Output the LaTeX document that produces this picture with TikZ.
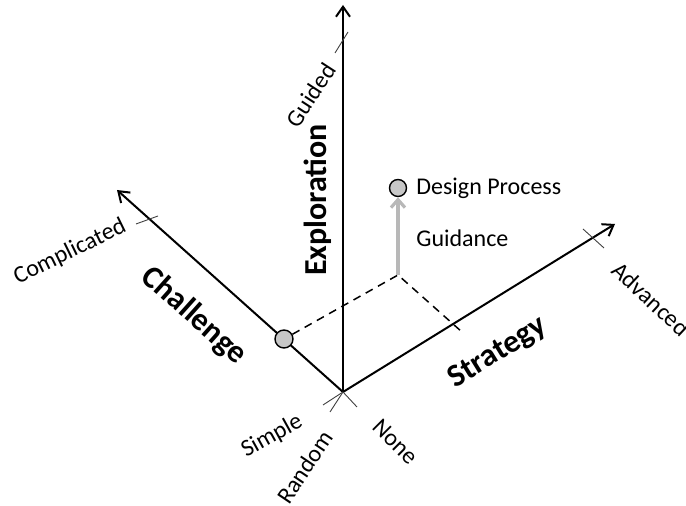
\documentclass[tikz,border=0pt]{standalone}
\usepackage{fontspec}
\setmainfont{Carlito}
\usetikzlibrary{arrows.meta,positioning}

\begin{document}
\begin{tikzpicture}[x=0.5pt, y=-0.5pt,
  axis/.style={line width=1pt, -{Straight Barb[length=5pt,width=7pt]}},
  tck/.style={line width=0.45pt, black!75},
  lbl/.style={font=\fontsize{12}{14}\selectfont, inner sep=0pt},
  axname/.style={font=\fontsize{16}{19}\selectfont\bfseries, inner sep=0pt},
  dot/.style={draw, circle, fill=black!22, line width=0.7pt, minimum size=9pt, inner sep=0pt}]
\useasboundingbox (0,0) rectangle (686,506);
\coordinate (O) at (343,392);
\coordinate (E) at (343,5);
\coordinate (C) at (117,190);
\coordinate (S) at (615,224);
\draw[axis] (O) -- (E);
\draw[axis] (O) -- (C);
\draw[axis] (O) -- (S);
% ticks
\draw[tck] (335,53) -- (348,32);
\draw[tck] (136,224) -- (158,216);
\draw[tck] (583,229) -- (604,248);
\draw[tck] (O) -- (323,405);
\draw[tck] (O) -- (330,412);
\draw[tck] (O) -- (357,407);
% projection
\node[dot] (ch) at (284,339) {};
\coordinate (P) at (398,275);
\coordinate (st) at (462,332);
\draw[dashed, line width=0.75pt, dash pattern=on 4pt off 3pt] (ch) -- (P) -- (st);
\node[dot, minimum size=8.5pt] (dp) at (398,188) {};
\draw[line width=1.6pt, black!28, -{Straight Barb[length=4pt,width=7pt]}] (P) -- (dp);
\node[lbl, anchor=west] (dpt) at (416,188) {Design Process};
\node[lbl, anchor=west] (gd) at (416,238) {Guidance};
% axis names
\node[axname, rotate=90] (ex) at (318,200) {Exploration};
\node[axname, rotate=-41.8] (cl) at (194,316) {Challenge};
\node[axname, rotate=31.7] (sg) at (498,353) {Strategy};
% end labels
\node[lbl, rotate=57] (gdd) at (311,95) {Guided};
\node[lbl, rotate=26] (cp) at (70,252) {Complicated};
\node[lbl, rotate=-43] (ad) at (651,299) {Advanced};
\node[lbl, rotate=29] (sm) at (272,436) {Simple};
\node[lbl, rotate=56] (rd) at (305,467) {Random};
\node[lbl, rotate=-45] (nn) at (396,442) {None};
\end{tikzpicture}
\end{document}
